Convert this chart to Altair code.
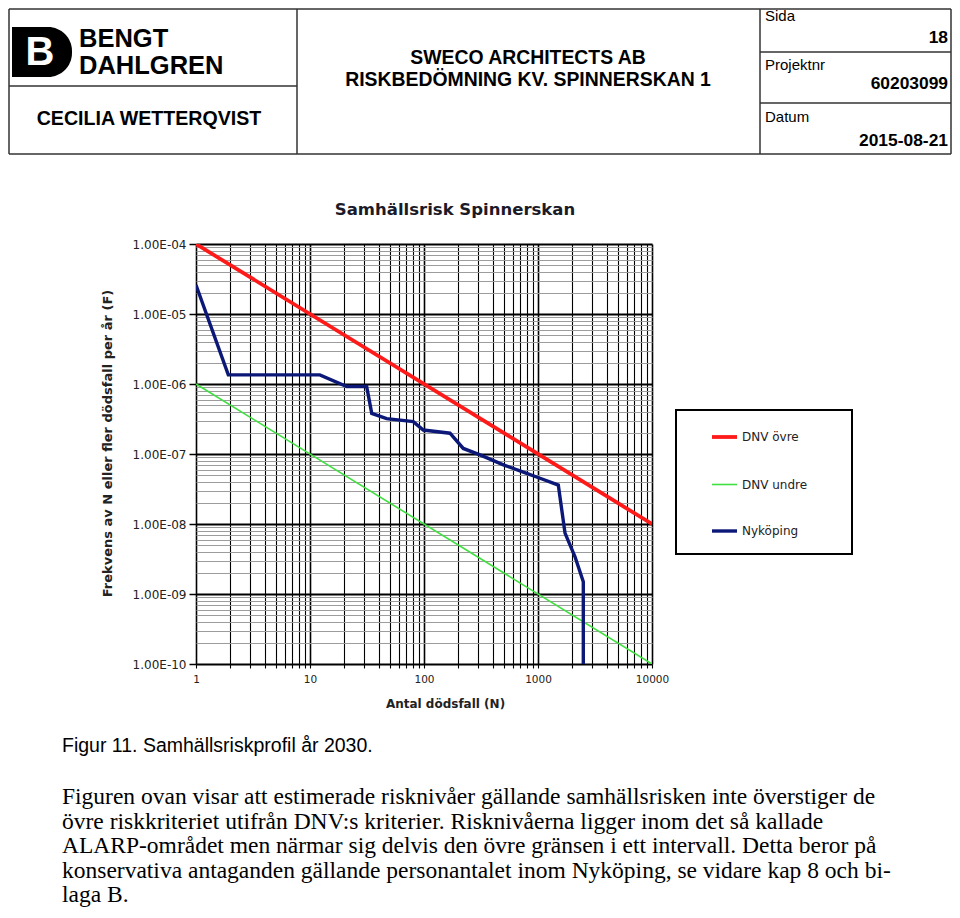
import altair as alt
import pandas as pd

# ---------------- data ----------------
SERIES = ["DNV övre", "DNV undre", "Nyköping"]
COLORS = ["#ff1a1a", "#40e040", "#0c1878"]
WIDTHS = [3.8, 1.6, 3.4]

UPPER_N = [1, 10000]
UPPER_F = [1e-4, 1e-8]
LOWER_N = [1, 10000]
LOWER_F = [1e-6, 1e-10]
NYK_N = [1, 1.92, 12.2, 21, 31.4, 34.8, 47, 80.6, 98.6, 169, 221, 310, 497,
         796, 1042, 1507, 1726, 2112, 2497, 2497]
NYK_F = [2.6e-5, 1.35e-6, 1.35e-6, 9.2e-7, 9.2e-7, 3.8e-7, 3.2e-7, 2.9e-7,
         2.2e-7, 1.98e-7, 1.2e-7, 9.7e-8, 7.0e-8, 5.3e-8, 4.5e-8, 3.6e-8,
         7.4e-9, 3.4e-9, 1.5e-9, 1e-10]

X_TICKS = [1, 2, 3, 4, 5, 6, 7, 8, 9,
           10, 20, 30, 40, 50, 60, 70, 80, 90,
           100, 200, 300, 400, 500, 600, 700, 800, 900,
           1000, 2000, 3000, 4000, 5000, 6000, 7000, 8000, 9000, 10000]
Y_TICKS = [1e-10, 2e-10, 3e-10, 4e-10, 5e-10, 6e-10, 7e-10, 8e-10, 9e-10,
           1e-9, 2e-9, 3e-9, 4e-9, 5e-9, 6e-9, 7e-9, 8e-9, 9e-9,
           1e-8, 2e-8, 3e-8, 4e-8, 5e-8, 6e-8, 7e-8, 8e-8, 9e-8,
           1e-7, 2e-7, 3e-7, 4e-7, 5e-7, 6e-7, 7e-7, 8e-7, 9e-7,
           1e-6, 2e-6, 3e-6, 4e-6, 5e-6, 6e-6, 7e-6, 8e-6, 9e-6,
           1e-5, 2e-5, 3e-5, 4e-5, 5e-5, 6e-5, 7e-5, 8e-5, 9e-5, 1e-4]

CHART_TITLE = "Samhällsrisk Spinnerskan"
X_TITLE = "Antal dödsfall (N)"
Y_TITLE = "Frekvens av N eller fler dödsfall per år (F)"

HEADER_COMPANY = ["BENGT", "DAHLGREN"]
HEADER_AUTHOR = "CECILIA WETTERQVIST"
HEADER_CLIENT = ["SWECO ARCHITECTS AB", "RISKBEDÖMNING KV. SPINNERSKAN 1"]
HEADER_FIELDS = [("Sida", "18"), ("Projektnr", "60203099"), ("Datum", "2015-08-21")]

CAPTION = "Figur 11. Samhällsriskprofil år 2030."
PARAGRAPH = [
    "Figuren ovan visar att estimerade risknivåer gällande samhällsrisken inte överstiger de",
    "övre riskkriteriet utifrån DNV:s kriterier. Risknivåerna ligger inom det så kallade",
    "ALARP-området men närmar sig delvis den övre gränsen i ett intervall. Detta beror på",
    "konservativa antaganden gällande personantalet inom Nyköping, se vidare kap 8 och bi-",
    "laga B.",
]

# ---------------- layout helpers ----------------
PX0, PY0 = 196, 244          # page position of plot origin
W, H = 456, 420              # plot area
SVG_W, SVG_H = 944, 900


def px(x):
    return x - PX0


def py(y):
    return y - PY0


SANS = "Liberation Sans"
CHART_FONT = "DejaVu Sans"
SERIF = "Liberation Serif"
one = pd.DataFrame({"k": [0]})

rows = []
for s, ns, fs in [(SERIES[0], UPPER_N, UPPER_F), (SERIES[1], LOWER_N, LOWER_F),
                  (SERIES[2], NYK_N, NYK_F)]:
    for i, (n, f) in enumerate(zip(ns, fs)):
        rows.append({"series": s, "N": n, "F": f, "i": i})
df = pd.DataFrame(rows)

DEC = "abs(log(datum.value)/LN10 - round(log(datum.value)/LN10)) < 1e-6"
EXP = "round(-log(datum.value)/LN10)"

x_axis = alt.Axis(
    values=X_TICKS, grid=True, gridColor="#000000",
    gridWidth={"condition": {"test": DEC, "value": 1.6}, "value": 1.1},
    tickColor="#000000", tickSize=4, tickWidth=1.1, domain=False,
    labelExpr=f"({DEC}) ? format(datum.value, 'd') : ''",
    labelFlush=False, labelOverlap=False, labelPadding=6,
    labelFont=CHART_FONT, labelFontSize=10.5, labelColor="#222222",
    title=X_TITLE, titleFont=CHART_FONT, titleFontSize=12, titleFontWeight="bold",
    titleColor="#222222", titleX=249, titleY=39, titleBaseline="middle",
    titleAlign="center",
)
y_axis = alt.Axis(
    values=Y_TICKS, grid=True,
    gridColor={"condition": {"test": DEC, "value": "#000000"}, "value": "#9c9c9c"},
    gridWidth={"condition": {"test": DEC, "value": 1.8}, "value": 1},
    tickColor={"condition": {"test": DEC, "value": "#000000"}, "value": "transparent"},
    tickSize=7, tickWidth=1.5, domain=False,
    labelExpr=f"({DEC}) ? '1.00E-' + ({EXP} < 10 ? '0' : '') + {EXP} : ''",
    labelFlush=False, labelOverlap=False, labelPadding=3,
    labelFont=CHART_FONT, labelFontSize=12, labelColor="#222222",
    title=Y_TITLE, titleFont=CHART_FONT, titleFontSize=13, titleFontWeight="bold",
    titleColor="#222222", titleX=-89, titleY=199, titleAngle=-90,
    titleAlign="center", titleBaseline="middle",
)

lines = alt.Chart(df).mark_line(clip=True).encode(
    x=alt.X("N:Q", scale=alt.Scale(type="log", domain=[1, 10000], nice=False), axis=x_axis),
    y=alt.Y("F:Q", scale=alt.Scale(type="log", domain=[1e-10, 1e-4], nice=False), axis=y_axis),
    color=alt.Color("series:N", scale=alt.Scale(domain=SERIES, range=COLORS),
                    legend=alt.Legend(
                        title=None, orient="none", legendX=px(676), legendY=py(410),
                        symbolType="stroke", symbolSize=625, symbolStrokeWidth=2.5,
                        labelFont=CHART_FONT, labelFontSize=12, labelColor="#222222",
                        padding=12.5, rowPadding=25.5, symbolOffset=21.5, labelOffset=3)),
    strokeWidth=alt.StrokeWidth("series:N",
                                scale=alt.Scale(type="ordinal", domain=SERIES, range=WIDTHS),
                                legend=None),
    order="i:Q",
)

legend_box = alt.Chart(one).mark_rect(fill="white", stroke="#000000", strokeWidth=2).encode(
    x=alt.value(px(676)), x2=alt.value(px(852)), y=alt.value(py(410)), y2=alt.value(py(554)))

layers = [legend_box, lines]

# header table frame
L, R, T, B = 9, 951, 9, 154
segments = [
    (L, R, T, T), (L, R, B, B), (L, L, T, B), (R, R, T, B),
    (297, 297, T, B), (760, 760, T, B),
    (L, 297, 86, 86), (760, R, 52, 52), (760, R, 103, 103),
]
for x1, x2, y1, y2 in segments:
    layers.append(alt.Chart(one).mark_rule(color="#333333", strokeWidth=1.5).encode(
        x=alt.value(px(x1)), x2=alt.value(px(x2)), y=alt.value(py(y1)), y2=alt.value(py(y2))))

# logo
layers.append(alt.Chart(one).mark_rect(color="#000000", cornerRadiusTopRight=24,
                                       cornerRadiusBottomRight=24).encode(
    x=alt.value(px(12)), x2=alt.value(px(72)), y=alt.value(py(27)), y2=alt.value(py(77))))


def text(t, x, y, size, weight="normal", align="left", baseline="middle",
         font=SANS, color="#000000", angle=0):
    return alt.Chart(one).mark_text(
        text=t, font=font, fontSize=size, fontWeight=weight, align=align,
        baseline=baseline, color=color, angle=angle).encode(
        x=alt.value(px(x)), y=alt.value(py(y)))


layers.append(text("B", 40, 53, 40, "bold", "center", color="#ffffff"))
layers.append(text(HEADER_COMPANY[0], 79, 39, 25.5, "bold"))
layers.append(text(HEADER_COMPANY[1], 79, 66, 25.5, "bold"))
layers.append(text(HEADER_AUTHOR, 149, 119, 19.6, "bold", "center"))
layers.append(text(HEADER_CLIENT[0], 528, 58, 19.4, "bold", "center"))
layers.append(text(HEADER_CLIENT[1], 528, 80, 19.4, "bold", "center"))
for (lab, val), (ly, vy) in zip(HEADER_FIELDS, [(16, 38), (65, 84), (117, 141)]):
    layers.append(text(lab, 765, ly, 15))
    layers.append(text(val, 948, vy, 17.4, "bold", "right"))

# chart title
layers.append(text(CHART_TITLE, 455, 210, 16.5, "bold", "center", font=CHART_FONT,
                   color="#1a1a28"))

# caption and paragraph
layers.append(text(CAPTION, 62, 752, 19.5, baseline="alphabetic"))
for k, line in enumerate(PARAGRAPH):
    layers.append(text(line, 62, 804 + 24.6 * k, 23.5, baseline="alphabetic", font=SERIF))

chart = alt.layer(*layers).properties(
    width=W, height=H,
    autosize=alt.AutoSizeParams(type="none"),
    padding={"left": PX0 - 8, "top": PY0 - 8,
             "right": SVG_W - (PX0 - 8) - W, "bottom": SVG_H - (PY0 - 8) - H},
).configure_view(stroke=None)

chart.save("out.html", embed_options={"renderer": "svg", "actions": False})
